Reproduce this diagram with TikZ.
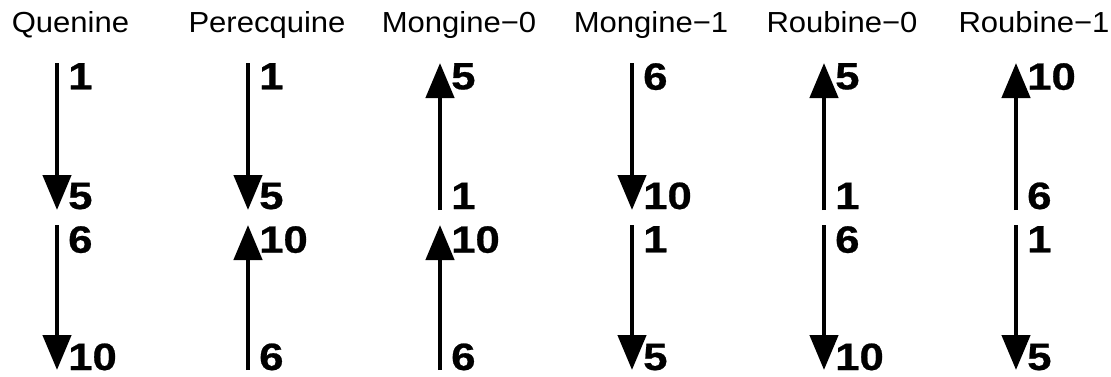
\documentclass[tikz,border=0pt]{standalone}
\usepackage{fontspec}
\setmainfont{Liberation Sans}
\newfontfamily\ttlfont[FakeStretch=1.07]{Liberation Sans}
\newfontfamily\lblfont[FakeStretch=1.15,FakeBold=0.6]{Liberation Sans}
\usetikzlibrary{arrows.meta}
\begin{document}
\begin{tikzpicture}[x=1pt,y=1pt,
  arr/.style={line width=4.5pt,-{Triangle[length=35pt,width=28pt]}},
  ttl/.style={anchor=base,inner sep=0pt,font=\ttlfont\fontsize{29}{32}\selectfont},
  toplab/.style={anchor=north west,inner sep=0pt,font=\lblfont\fontsize{38}{40}\selectfont\bfseries},
  botlab/.style={anchor=base west,inner sep=0pt,font=\lblfont\fontsize{38}{40}\selectfont\bfseries}]
\useasboundingbox (0,0) rectangle (1111,376);
% column data: arrow x, title centre, title, top pair (upper label, lower label, direction), bottom pair
\foreach \n/\x/\tx/\t/\ua/\ub/\ud/\la/\lb/\ld in {
  q/57/70.5/Quenine/1/5/down/6/10/down,
  p/248/267/Perecquine/1/5/down/10/6/up,
  ma/440/459/Mongine−0/5/1/up/10/6/up,
  mb/632/651/Mongine−1/6/10/down/1/5/down,
  ra/824/842/Roubine−0/5/1/up/6/10/down,
  rb/1016/1034/Roubine−1/10/6/up/1/5/down}{
  \node[ttl] (\n-title) at (\tx,344) {\t};
  \coordinate (\n-t1) at (\x,313);
  \coordinate (\n-b1) at (\x,166);
  \coordinate (\n-t2) at (\x,151);
  \coordinate (\n-b2) at (\x,6);
  \node[toplab] (\n-l1) at (\x+11,313) {\ua};
  \node[botlab] (\n-l2) at (\x+11,167) {\ub};
  \node[toplab] (\n-l3) at (\x+11,150) {\la};
  \node[botlab] (\n-l4) at (\x+11,6) {\lb};
  \ifnum\pdfstrcmp{\ud}{down}=0
    \draw[arr] (\n-t1) -- (\n-b1);
  \else
    \draw[arr] (\n-b1) -- (\n-t1);
  \fi
  \ifnum\pdfstrcmp{\ld}{down}=0
    \draw[arr] (\n-t2) -- (\n-b2);
  \else
    \draw[arr] (\n-b2) -- (\n-t2);
  \fi
}
\end{tikzpicture}
\end{document}
